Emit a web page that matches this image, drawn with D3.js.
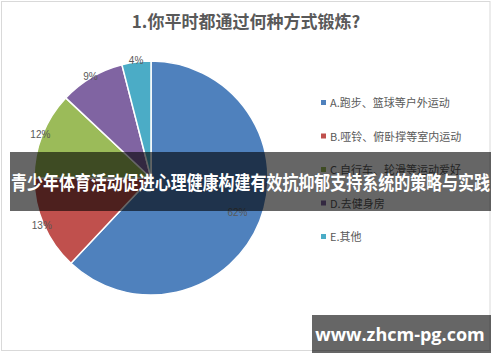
<!DOCTYPE html>
<html>
<head>
<meta charset="utf-8">
<script src="https://cdn.jsdelivr.net/npm/d3@7"></script>
<style>
  html, body { margin: 0; padding: 0; background: #fff; }
  svg { display: block; font-family: "Noto Sans CJK SC", "Noto Sans", sans-serif; }
</style>
</head>
<body>
<div id="chart"></div>
<script>
// --- chart data ---
const TITLE = "1.你平时都通过何种方式锻炼?";
const CATEGORIES = [
  "A.跑步、篮球等户外运动",
  "B.哑铃、俯卧撑等室内运动",
  "C.自行车、轮滑等运动爱好",
  "D.去健身房",
  "E.其他"
];
const VALUES = [62, 13, 12, 9, 4];
const COLORS = ["#4f81bd", "#c0504d", "#9bbb59", "#8064a2", "#4bacc6"];
const BANNER_TEXT = "青少年体育活动促进心理健康构建有效抗抑郁支持系统的策略与实践";
const WATERMARK = "www.zhcm-pg.com";

const W = 500, H = 362;
const svg = d3.select("#chart").append("svg")
  .attr("width", W).attr("height", H);

// chart frame
svg.append("rect")
  .attr("x", 1.5).attr("y", 1.5)
  .attr("width", 488.5).attr("height", 349)
  .attr("fill", "#fff").attr("stroke", "#d9d9d9");

svg.append("text")
  .attr("x", 246).attr("y", 28)
  .attr("text-anchor", "middle")
  .style("font-size", "17px").style("font-weight", "bold")
  .style("fill", "#595959")
  .text(TITLE);

// --- pie ---
const cx = 151, cy = 178, R = 117;
const pie = d3.pie().sort(null).value(d => d);
const arcs = pie(VALUES);
const arc = d3.arc().innerRadius(0).outerRadius(R);

const g = svg.append("g").attr("transform", `translate(${cx},${cy})`);
g.selectAll("path.slice")
  .data(arcs)
  .enter().append("path")
  .attr("class", "slice")
  .attr("d", arc)
  .attr("fill", (d, i) => COLORS[i])
  .attr("stroke", "#fff")
  .attr("stroke-width", 1.5);

// labels: big slice inside, small ones on the rim
g.selectAll("text.lbl")
  .data(arcs)
  .enter().append("text")
  .attr("class", "lbl")
  .attr("transform", d => {
    const r = d.data > 50 ? 93 : 119;
    const c = d3.arc().innerRadius(r).outerRadius(r).centroid(d);
    return `translate(${c[0]},${c[1] + 4})`;
  })
  .attr("text-anchor", "middle")
  .style("font-size", "10px").style("fill", "#595959")
  .style("font-family", "Arial, 'Liberation Sans', sans-serif")
  .text(d => d.data + "%");

// --- legend ---
const legendY = d3.scalePoint().domain(CATEGORIES).range([103, 237]);
const lg = svg.append("g");
CATEGORIES.forEach((c, i) => {
  lg.append("rect")
    .attr("x", 321).attr("y", legendY(c) - 3)
    .attr("width", 5).attr("height", 5)
    .attr("fill", COLORS[i]);
  lg.append("text")
    .attr("x", 330).attr("y", legendY(c) + 4)
    .style("font-size", "11px").style("fill", "#595959")
    .text(c);
});

// --- overlay banner ---
svg.append("rect")
  .attr("x", 10).attr("y", 152)
  .attr("width", 481).attr("height", 59)
  .attr("fill", "rgba(0,0,0,0.6)");
svg.append("text")
  .attr("x", 11).attr("y", 190)
  .attr("textLength", 479).attr("lengthAdjust", "spacingAndGlyphs")
  .style("font-size", "19px").style("font-weight", "bold")
  .style("fill", "#fff")
  .text(BANNER_TEXT);

// --- watermark box ---
svg.append("rect")
  .attr("x", 312).attr("y", 315)
  .attr("width", 179).attr("height", 38)
  .attr("fill", "rgba(0,0,0,0.6)");
svg.append("text")
  .attr("x", 400).attr("y", 341)
  .attr("text-anchor", "middle")
  .style("font-size", "18px").style("font-weight", "bold")
  .style("font-family", "'Open Sans', 'DejaVu Sans', sans-serif")
  .style("fill", "#fff")
  .text(WATERMARK);
</script>
</body>
</html>
